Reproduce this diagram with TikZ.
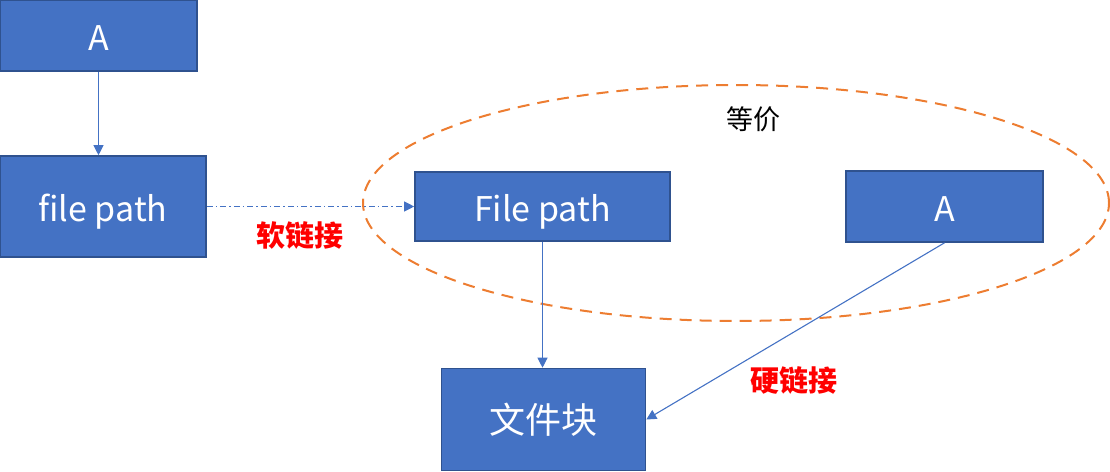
\documentclass[tikz,border=0pt]{standalone}
\usepackage{fontspec}
\setmainfont{Noto Sans CJK SC}
\usetikzlibrary{arrows.meta,positioning,shapes.geometric}
\definecolor{boxfill}{HTML}{4472C4}
\definecolor{boxline}{HTML}{2F528F}
\definecolor{conn}{HTML}{4472C4}
\definecolor{ellc}{HTML}{ED7D31}
\tikzset{
  bluebox/.style={draw=boxline, line width=1.6pt, fill=boxfill, text=white, inner sep=0pt, font=\fontsize{34}{34}\selectfont},
  lowtext/.style={text height=30pt, text depth=0pt},
  connline/.style={draw=conn, line width=1.1pt, -{Triangle[width=10pt,length=10pt]}},
  redlabel/.style={text=red, font=\fontsize{29}{29}\selectfont\bfseries},
}
\begin{document}
\begin{tikzpicture}[x=1pt,y=-1pt]
\useasboundingbox (0,0) rectangle (1110,471);
\node[bluebox, lowtext, minimum width=197pt, minimum height=71pt] (a1) at (98.5,35.5) {A};
\node[bluebox, lowtext, minimum width=206pt, minimum height=101pt] (fp1) at (103,206.5) {file path};
\node[bluebox, lowtext, minimum width=255pt, minimum height=69pt] (fp2) at (542.5,206.5) {File path};
\node[bluebox, lowtext, minimum width=197pt, minimum height=71pt] (a2) at (944.5,206.5) {A};
\node[bluebox, minimum width=204pt, minimum height=102pt, font=\fontsize{36}{36}\selectfont] (blk) at (543.5,419.5) {文件块};
\node[ellipse, draw=ellc, dashed, dash pattern=on 12pt off 8pt, line width=2pt, minimum width=746pt, minimum height=236pt, inner sep=0pt] (eq) at (736,203) {};
\node[font=\fontsize{27}{27}\selectfont] (eqlabel) at (753,119) {等价};
\node[redlabel] (soft) at (300,235) {软链接};
\node[redlabel] (hard) at (794,380) {硬链接};
\draw[connline] (a1.south) -- (a1.south |- fp1.north);
\draw[connline, line width=0.9pt, dash pattern=on 6pt off 3pt on 1.5pt off 3pt] (fp1.east) -- (fp2.west);
\draw[connline] (fp2.south) -- (fp2.south |- blk.north);
\draw[connline] (a2.south) -- (blk.east);
\end{tikzpicture}
\end{document}
